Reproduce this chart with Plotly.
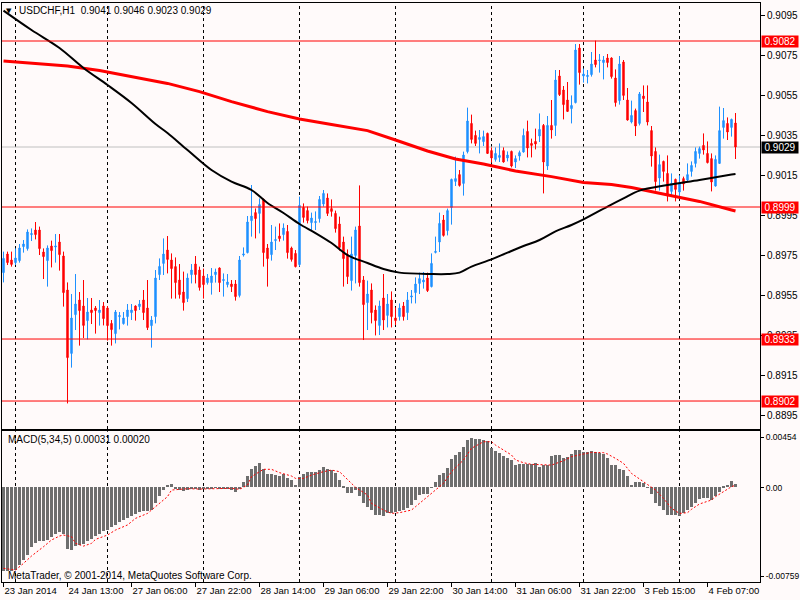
import plotly.graph_objects as go

## Velas H1 USDCHF (una por barra, indice 0..183)
bar_open = [0.89662, 0.89755, 0.89725, 0.89712, 0.89722, 0.89792, 0.89782, 0.89852, 0.89875, 0.89875,
            0.89765, 0.89722, 0.89795, 0.89790, 0.89815, 0.89745, 0.89575, 0.89258, 0.89452, 0.89525,
            0.89495, 0.89422, 0.89475, 0.89485, 0.89462, 0.89495, 0.89485, 0.89408, 0.89357, 0.89442,
            0.89407, 0.89442, 0.89462, 0.89495, 0.89492, 0.89525, 0.89485, 0.89397, 0.89442, 0.89652,
            0.89708, 0.89775, 0.89725, 0.89692, 0.89625, 0.89565, 0.89532, 0.89652, 0.89705, 0.89675,
            0.89645, 0.89612, 0.89612, 0.89652, 0.89685, 0.89622, 0.89602, 0.89605, 0.89605, 0.89548,
            0.89750, 0.89762, 0.89922, 0.89962, 0.89958, 0.90028, 0.89785, 0.89752, 0.89822, 0.89845,
            0.89852, 0.89868, 0.89785, 0.89758, 0.89702, 0.89988, 0.89972, 0.89912, 0.89912, 0.89932,
            0.90005, 0.90035, 0.89982, 0.89958, 0.89905, 0.89815, 0.89752, 0.89622, 0.89748, 0.89895,
            0.89625, 0.89512, 0.89575, 0.89475, 0.89398, 0.89535, 0.89448, 0.89525, 0.89435, 0.89442,
            0.89495, 0.89462, 0.89540, 0.89562, 0.89608, 0.89615, 0.89635, 0.89592, 0.89763, 0.89815,
            0.89925, 0.89872, 0.89988, 0.90118, 0.90152, 0.90108, 0.90267, 0.90408, 0.90348, 0.90328,
            0.90317, 0.90358, 0.90272, 0.90228, 0.90238, 0.90272, 0.90235, 0.90268, 0.90215, 0.90245,
            0.90265, 0.90368, 0.90308, 0.90318, 0.90345, 0.90398, 0.90195, 0.90398, 0.90398, 0.90645,
            0.90575, 0.90525, 0.90482, 0.90512, 0.90785, 0.90645, 0.90642, 0.90652, 0.90725, 0.90722,
            0.90712, 0.90735, 0.90735, 0.90635, 0.90522, 0.90715, 0.90525, 0.90415, 0.90472, 0.90408,
            0.90545, 0.90515, 0.90372, 0.90268, 0.90135, 0.90218, 0.90158, 0.90068, 0.90128, 0.90065,
            0.90132, 0.90125, 0.90168, 0.90208, 0.90258, 0.90298, 0.90258, 0.90232, 0.90095, 0.90208,
            0.90388, 0.90408, 0.90388, 0.90410]
bar_high = [0.89767, 0.89767, 0.89767, 0.89783, 0.89805, 0.89825, 0.89878, 0.89883, 0.89915, 0.89892,
            0.89783, 0.89798, 0.89822, 0.89855, 0.89855, 0.89767, 0.89613, 0.89555, 0.89655, 0.89565,
            0.89625, 0.89535, 0.89535, 0.89495, 0.89525, 0.89515, 0.89495, 0.89425, 0.89475, 0.89465,
            0.89465, 0.89505, 0.89505, 0.89498, 0.89525, 0.89575, 0.89625, 0.89445, 0.89675, 0.89733,
            0.89833, 0.89845, 0.89758, 0.89738, 0.89705, 0.89667, 0.89658, 0.89705, 0.89745, 0.89692,
            0.89682, 0.89655, 0.89685, 0.89682, 0.89688, 0.89658, 0.89655, 0.89625, 0.89625, 0.89745,
            0.89788, 0.89945, 0.90100, 0.89983, 0.90033, 0.90032, 0.89805, 0.89900, 0.89892, 0.89908,
            0.89908, 0.89900, 0.89792, 0.89775, 0.90042, 0.90008, 0.89992, 0.89962, 0.89968, 0.90045,
            0.90075, 0.90058, 0.90028, 0.89972, 0.89942, 0.89842, 0.89778, 0.89842, 0.89892, 0.90098,
            0.89645, 0.89622, 0.89608, 0.89498, 0.89522, 0.89655, 0.89555, 0.89568, 0.89488, 0.89508,
            0.89515, 0.89565, 0.89575, 0.89638, 0.89662, 0.89665, 0.89662, 0.89758, 0.89842, 0.89962,
            0.89950, 0.89982, 0.90132, 0.90242, 0.90175, 0.90267, 0.90487, 0.90452, 0.90372, 0.90375,
            0.90372, 0.90362, 0.90288, 0.90288, 0.90308, 0.90288, 0.90268, 0.90272, 0.90248, 0.90272,
            0.90382, 0.90422, 0.90332, 0.90382, 0.90458, 0.90405, 0.90445, 0.90525, 0.90675, 0.90675,
            0.90595, 0.90615, 0.90548, 0.90805, 0.90805, 0.90682, 0.90675, 0.90765, 0.90822, 0.90755,
            0.90745, 0.90755, 0.90738, 0.90678, 0.90745, 0.90725, 0.90585, 0.90522, 0.90482, 0.90565,
            0.90598, 0.90598, 0.90395, 0.90288, 0.90252, 0.90222, 0.90248, 0.90158, 0.90132, 0.90148,
            0.90142, 0.90208, 0.90218, 0.90288, 0.90292, 0.90358, 0.90318, 0.90258, 0.90248, 0.90492,
            0.90485, 0.90438, 0.90432, 0.90460]
bar_low = [0.89613, 0.89700, 0.89692, 0.89700, 0.89712, 0.89762, 0.89772, 0.89820, 0.89828, 0.89750,
           0.89630, 0.89592, 0.89688, 0.89712, 0.89672, 0.89492, 0.89008, 0.89187, 0.89375, 0.89297,
           0.89335, 0.89328, 0.89405, 0.89357, 0.89397, 0.89398, 0.89322, 0.89297, 0.89308, 0.89378,
           0.89402, 0.89397, 0.89425, 0.89422, 0.89475, 0.89425, 0.89375, 0.89287, 0.89408, 0.89625,
           0.89650, 0.89658, 0.89532, 0.89532, 0.89532, 0.89472, 0.89515, 0.89608, 0.89608, 0.89572,
           0.89532, 0.89602, 0.89552, 0.89612, 0.89565, 0.89542, 0.89588, 0.89565, 0.89522, 0.89538,
           0.89742, 0.89758, 0.89842, 0.89833, 0.89858, 0.89692, 0.89592, 0.89722, 0.89775, 0.89817,
           0.89822, 0.89732, 0.89717, 0.89688, 0.89692, 0.89912, 0.89908, 0.89875, 0.89875, 0.89912,
           0.89992, 0.89945, 0.89942, 0.89862, 0.89772, 0.89592, 0.89605, 0.89572, 0.89608, 0.89592,
           0.89325, 0.89375, 0.89408, 0.89348, 0.89350, 0.89375, 0.89388, 0.89388, 0.89400, 0.89422,
           0.89422, 0.89425, 0.89508, 0.89508, 0.89555, 0.89582, 0.89565, 0.89588, 0.89758, 0.89765,
           0.89842, 0.89848, 0.89902, 0.90095, 0.90092, 0.90047, 0.90258, 0.90308, 0.90295, 0.90258,
           0.90295, 0.90255, 0.90212, 0.90217, 0.90215, 0.90212, 0.90218, 0.90188, 0.90185, 0.90222,
           0.90262, 0.90238, 0.90238, 0.90278, 0.90315, 0.90058, 0.90175, 0.90332, 0.90345, 0.90545,
           0.90428, 0.90465, 0.90408, 0.90508, 0.90602, 0.90612, 0.90608, 0.90642, 0.90688, 0.90662,
           0.90628, 0.90688, 0.90632, 0.90492, 0.90502, 0.90525, 0.90422, 0.90408, 0.90345, 0.90398,
           0.90465, 0.90398, 0.90192, 0.90072, 0.90072, 0.90117, 0.90018, 0.90042, 0.90018, 0.90042,
           0.90072, 0.90115, 0.90142, 0.90188, 0.90232, 0.90252, 0.90208, 0.90068, 0.90092, 0.90205,
           0.90332, 0.90325, 0.90342, 0.90230]
bar_close = [0.89733, 0.89712, 0.89703, 0.89735, 0.89785, 0.89805, 0.89865, 0.89857, 0.89852, 0.89782,
             0.89742, 0.89785, 0.89772, 0.89795, 0.89752, 0.89562, 0.89237, 0.89435, 0.89505, 0.89472,
             0.89398, 0.89465, 0.89462, 0.89472, 0.89475, 0.89432, 0.89397, 0.89377, 0.89465, 0.89447,
             0.89435, 0.89475, 0.89475, 0.89472, 0.89505, 0.89462, 0.89387, 0.89425, 0.89635, 0.89693,
             0.89755, 0.89728, 0.89682, 0.89612, 0.89552, 0.89512, 0.89635, 0.89675, 0.89652, 0.89588,
             0.89602, 0.89635, 0.89645, 0.89665, 0.89612, 0.89627, 0.89615, 0.89592, 0.89542, 0.89725,
             0.89755, 0.89915, 0.89945, 0.89932, 0.90002, 0.89762, 0.89732, 0.89815, 0.89827, 0.89832,
             0.89885, 0.89762, 0.89728, 0.89692, 0.89998, 0.89938, 0.89922, 0.89935, 0.89917, 0.90028,
             0.90058, 0.89958, 0.89968, 0.89882, 0.89788, 0.89732, 0.89642, 0.89755, 0.89875, 0.89612,
             0.89502, 0.89555, 0.89462, 0.89422, 0.89495, 0.89425, 0.89505, 0.89442, 0.89422, 0.89485,
             0.89442, 0.89525, 0.89545, 0.89605, 0.89632, 0.89625, 0.89572, 0.89708, 0.89768, 0.89908,
             0.89848, 0.89972, 0.90128, 0.90132, 0.90098, 0.90250, 0.90420, 0.90328, 0.90308, 0.90338,
             0.90342, 0.90258, 0.90235, 0.90258, 0.90248, 0.90215, 0.90250, 0.90195, 0.90232, 0.90262,
             0.90348, 0.90285, 0.90298, 0.90305, 0.90378, 0.90215, 0.90398, 0.90375, 0.90625, 0.90552,
             0.90502, 0.90468, 0.90498, 0.90775, 0.90662, 0.90655, 0.90648, 0.90705, 0.90702, 0.90725,
             0.90725, 0.90712, 0.90642, 0.90512, 0.90705, 0.90548, 0.90425, 0.90448, 0.90395, 0.90555,
             0.90532, 0.90415, 0.90245, 0.90117, 0.90202, 0.90168, 0.90045, 0.90108, 0.90078, 0.90105,
             0.90105, 0.90152, 0.90198, 0.90268, 0.90282, 0.90275, 0.90212, 0.90115, 0.90228, 0.90372,
             0.90422, 0.90365, 0.90428, 0.90290]

## Medias moviles (puntos leidos sobre cada linea)
ma_red_bars = [0, 7, 16, 24, 32, 41, 49, 57, 66, 74, 82, 91, 98, 106, 113, 120, 128, 137, 145, 152,
               157, 166, 174, 182, 183]
ma_red_vals = [0.90720, 0.90708, 0.90695, 0.90672, 0.90642, 0.90608, 0.90567, 0.90517, 0.90467, 0.90430,
               0.90403, 0.90372, 0.90325, 0.90270, 0.90230, 0.90205, 0.90170, 0.90142, 0.90113, 0.90102,
               0.90088, 0.90052, 0.90018, 0.89975, 0.89970]
ma_black_bars = [0, 7, 14, 20, 26, 32, 38, 41, 46, 52, 57, 62, 66, 70, 74, 78, 82, 86, 91, 95,
                 99, 107, 111, 114, 117, 122, 126, 130, 134, 138, 142, 145, 151, 155, 159, 166, 174, 182, 183]
ma_black_vals = [0.90972, 0.90875, 0.90785, 0.90685, 0.90600, 0.90510, 0.90405, 0.90360, 0.90275, 0.90175,
                 0.90117, 0.90075, 0.90010, 0.89960, 0.89905, 0.89860, 0.89810, 0.89750, 0.89710, 0.89680,
                 0.89662, 0.89655, 0.89655, 0.89662, 0.89692, 0.89728, 0.89762, 0.89795, 0.89825, 0.89868,
                 0.89900, 0.89928, 0.89992, 0.90033, 0.90072, 0.90100, 0.90125, 0.90152, 0.90155]

## MACD(5,34,5): histograma y linea de senal
macd_hist = [-0.00676, -0.00676, -0.00673, -0.00663, -0.00623, -0.00582, -0.00542, -0.00480, -0.00448, -0.00435,
             -0.00429, -0.00421, -0.00400, -0.00378, -0.00357, -0.00373, -0.00494, -0.00502, -0.00475, -0.00467,
             -0.00453, -0.00435, -0.00413, -0.00394, -0.00373, -0.00354, -0.00341, -0.00319, -0.00301, -0.00282,
             -0.00266, -0.00247, -0.00228, -0.00212, -0.00201, -0.00193, -0.00188, -0.00180, -0.00126, -0.00072,
             -0.00019, 0.00022, 0.00030, -0.00005, -0.00024, -0.00032, -0.00019, -0.00008, -0.00005, -0.00019,
             -0.00013, -0.00008, -0.00005, -0.00003, -0.00005, -0.00005, -0.00005, -0.00019, -0.00035, -0.00005,
             0.00040, 0.00089, 0.00148, 0.00174, 0.00199, 0.00150, 0.00107, 0.00107, 0.00102, 0.00094,
             0.00110, 0.00075, 0.00056, 0.00022, 0.00081, 0.00110, 0.00121, 0.00126, 0.00121, 0.00137,
             0.00164, 0.00150, 0.00142, 0.00115, 0.00062, 0.00013, -0.00046, -0.00046, -0.00019, -0.00072,
             -0.00126, -0.00158, -0.00185, -0.00220, -0.00220, -0.00228, -0.00207, -0.00207, -0.00201, -0.00193,
             -0.00185, -0.00166, -0.00140, -0.00099, -0.00059, -0.00051, -0.00051, 0.00003, 0.00040, 0.00102,
             0.00115, 0.00156, 0.00228, 0.00263, 0.00282, 0.00325, 0.00384, 0.00397, 0.00389, 0.00389,
             0.00378, 0.00370, 0.00317, 0.00290, 0.00276, 0.00255, 0.00236, 0.00217, 0.00182, 0.00190,
             0.00188, 0.00188, 0.00188, 0.00196, 0.00161, 0.00182, 0.00182, 0.00250, 0.00263, 0.00258,
             0.00236, 0.00244, 0.00271, 0.00303, 0.00298, 0.00284, 0.00282, 0.00290, 0.00287, 0.00276,
             0.00271, 0.00236, 0.00182, 0.00182, 0.00148, 0.00142, 0.00089, 0.00022, 0.00043, 0.00043,
             0.00035, 0.00003, -0.00054, -0.00126, -0.00153, -0.00180, -0.00220, -0.00220, -0.00220, -0.00228,
             -0.00207, -0.00180, -0.00158, -0.00126, -0.00094, -0.00086, -0.00086, -0.00105, -0.00072, -0.00040,
             0.00008, 0.00022, 0.00054, 0.00031]
signal_bars = [0, 3, 5, 7, 10, 12, 14, 15, 17, 18, 20, 22, 23, 26, 28, 31, 33, 36, 37, 39,
               41, 42, 46, 49, 53, 57, 59, 61, 62, 65, 67, 69, 72, 73, 75, 77, 80, 82, 84, 86,
               88, 91, 92, 95, 97, 99, 102, 103, 105, 107, 110, 112, 115, 117, 120, 122, 123, 125, 127, 128,
               130, 132, 137, 140, 142, 145, 147, 150, 151, 153, 155, 157, 160, 161, 163, 165, 167, 169, 171, 172,
               174, 177, 178, 180, 182, 183]
signal_vals = [-0.00649, -0.00663, -0.00609, -0.00550, -0.00475, -0.00421, -0.00389, -0.00381, -0.00394, -0.00448,
               -0.00470, -0.00448, -0.00416, -0.00381, -0.00341, -0.00300, -0.00247, -0.00207, -0.00180, -0.00126,
               -0.00072, -0.00019, -0.00008, -0.00011, -0.00005, -0.00005, -0.00013, 0.00021, 0.00089, 0.00148,
               0.00148, 0.00121, 0.00094, 0.00075, 0.00075, 0.00102, 0.00129, 0.00142, 0.00129, 0.00062,
               0.00003, -0.00059, -0.00126, -0.00180, -0.00207, -0.00201, -0.00180, -0.00153, -0.00099, -0.00046,
               0.00035, 0.00129, 0.00223, 0.00317, 0.00370, 0.00370, 0.00343, 0.00303, 0.00263, 0.00223,
               0.00201, 0.00188, 0.00182, 0.00217, 0.00250, 0.00271, 0.00284, 0.00282, 0.00271, 0.00236,
               0.00196, 0.00115, 0.00048, 0.00021, -0.00019, -0.00086, -0.00166, -0.00207, -0.00201, -0.00174,
               -0.00131, -0.00099, -0.00072, -0.00032, 0.00008, 0.00020]

## Niveles horizontales y precio actual
levels = [0.9082, 0.8999, 0.8933, 0.8902]
level_text = ['0.9082', '0.8999', '0.8933', '0.8902']
last_price = 0.9029

## Ejes
price_ticks = [0.9095, 0.9075, 0.9055, 0.9035, 0.9015, 0.8995, 0.8975, 0.8955, 0.8935, 0.8915, 0.8895]
price_tick_text = ['0.9095', '0.9075', '0.9055', '0.9035', '0.9015', '0.8995', '0.8975', '0.8955',
                   '0.8935', '0.8915', '0.8895']
macd_tick_pos = [0.00406, 0.0, -0.00711]
macd_tick_text = ['0.00454', '0.00', '-0.00759']
time_tick_bars = [0, 16, 32, 48, 64, 80, 96, 112, 128, 144, 160, 176]
time_tick_text = ['23 Jan 2014', '24 Jan 13:00', '27 Jan 06:00', '27 Jan 22:00', '28 Jan 14:00',
                  '29 Jan 06:00', '29 Jan 22:00', '30 Jan 14:00', '31 Jan 06:00', '31 Jan 22:00',
                  '3 Feb 15:00', '4 Feb 07:00']
day_grid_bars = [3, 26, 50, 74, 98, 122, 145, 169]

bars = list(range(len(bar_open)))
BG = '#FFFAFA'
FONT = 'Liberation Sans'

fig = go.Figure()
fig.add_trace(go.Candlestick(
    x=bars, open=bar_open, high=bar_high, low=bar_low, close=bar_close,
    increasing=dict(line=dict(color='#1E90FF', width=1), fillcolor='#1E90FF'),
    decreasing=dict(line=dict(color='#FF0000', width=1), fillcolor='#FF0000'),
    whiskerwidth=0, xaxis='x', yaxis='y', showlegend=False))
fig.add_trace(go.Scatter(x=ma_red_bars, y=ma_red_vals, mode='lines',
                         line=dict(color='#FF0000', width=3), xaxis='x', yaxis='y', showlegend=False))
fig.add_trace(go.Scatter(x=ma_black_bars, y=ma_black_vals, mode='lines', line_shape='spline',
                         line=dict(color='#000000', width=2), xaxis='x', yaxis='y', showlegend=False))
fig.add_trace(go.Bar(x=bars, y=macd_hist, width=0.75, marker=dict(color='#6E6E6E', line=dict(width=0)),
                     xaxis='x2', yaxis='y2', showlegend=False))
fig.add_trace(go.Scatter(x=signal_bars, y=signal_vals, mode='lines',
                         line=dict(color='#FF0000', width=1, dash='2px,2px'),
                         xaxis='x2', yaxis='y2', showlegend=False))

shapes = []
for g in day_grid_bars:
    for yr in ['y domain', 'y2 domain']:
        shapes.append(dict(type='line', xref='x', x0=g, x1=g, yref=yr, y0=0, y1=1,
                           line=dict(color='black', width=1, dash='3px,3px'), layer='below'))
for lv in levels:
    shapes.append(dict(type='line', xref='x domain', x0=0, x1=1, yref='y', y0=lv, y1=lv,
                       line=dict(color='#FF0000', width=1)))
shapes.append(dict(type='line', xref='x domain', x0=0, x1=1, yref='y', y0=last_price, y1=last_price,
                   line=dict(color='#C0C0C0', width=1), layer='below'))

annotations = []
for lv, txt in zip(levels, level_text):
    annotations.append(dict(xref='paper', x=1, xanchor='left', xshift=1, yref='y', y=lv, yanchor='middle',
                            text=txt, showarrow=False, bgcolor='#FF0000', borderpad=0, width=36,
                            font=dict(family=FONT, size=10, color='white')))
annotations.append(dict(xref='paper', x=1, xanchor='left', xshift=1, yref='y', y=last_price, yanchor='middle',
                        text='0.9029', showarrow=False, bgcolor='#000000', borderpad=0, width=36,
                        font=dict(family=FONT, size=10, color='white')))
annotations.append(dict(xref='x domain', x=0, xanchor='left', xshift=2, yref='y domain', y=1,
                        yanchor='middle', yshift=-8, text='▼', showarrow=False,
                        font=dict(family='DejaVu Sans', size=7, color='black')))
annotations.append(dict(xref='x domain', x=0, xanchor='left', xshift=15, yref='y domain', y=1,
                        yanchor='middle', yshift=-7, text='USDCHF,H1  0.9041 0.9046 0.9023 0.9029',
                        showarrow=False, font=dict(family=FONT, size=10, color='black')))
annotations.append(dict(xref='x domain', x=0, xanchor='left', xshift=4, yref='y2 domain', y=1,
                        yanchor='middle', yshift=-8, text='MACD(5,34,5) 0.00031 0.00020',
                        showarrow=False, font=dict(family=FONT, size=10, color='black')))
annotations.append(dict(xref='x domain', x=0, xanchor='left', xshift=4, yref='y2 domain', y=0,
                        yanchor='middle', yshift=7, text='MetaTrader, © 2001-2014, MetaQuotes Software Corp.',
                        showarrow=False, font=dict(family=FONT, size=10, color='black')))

axis_common = dict(showgrid=False, zeroline=False, showline=True, linecolor='black', linewidth=1,
                   mirror=True, tickcolor='black', automargin=False)

fig.update_layout(
    width=800, height=600,
    margin=dict(l=2, r=40, t=3, b=18),
    paper_bgcolor=BG, plot_bgcolor=BG,
    showlegend=False, boxgap=0.5, bargap=0,
    font=dict(family=FONT, size=10, color='black'),
    shapes=shapes, annotations=annotations,
    xaxis=dict(domain=[0, 1], range=[-0.375, 189.125], anchor='y', showticklabels=False, ticks='',
               rangeslider=dict(visible=False), **axis_common),
    xaxis2=dict(domain=[0, 1], range=[-0.375, 189.125], anchor='y2', tickmode='array',
                tickvals=time_tick_bars, ticktext=time_tick_text, ticks='outside', ticklen=4,
                tickangle=0, ticklabelposition='outside right', ticklabelstandoff=0,
                tickfont=dict(family=FONT, size=9.5, color='black'), **axis_common),
    yaxis=dict(domain=[0.2642, 1], range=[0.8888, 0.9101], anchor='x', side='right', tickmode='array',
               tickvals=price_ticks, ticktext=price_tick_text, ticks='outside', ticklen=4,
               tickfont=dict(family=FONT, size=10, color='black'), **axis_common),
    yaxis2=dict(domain=[0, 0.2603], range=[-0.00759, 0.00454], anchor='x2', side='right', tickmode='array',
                tickvals=macd_tick_pos, ticktext=macd_tick_text, ticks='outside', ticklen=3,
                tickfont=dict(family=FONT, size=8.5, color='black'), **axis_common),
)

fig.write_html("out.html", config={'displayModeBar': False},
               post_script="document.body.style.margin='0px';")
